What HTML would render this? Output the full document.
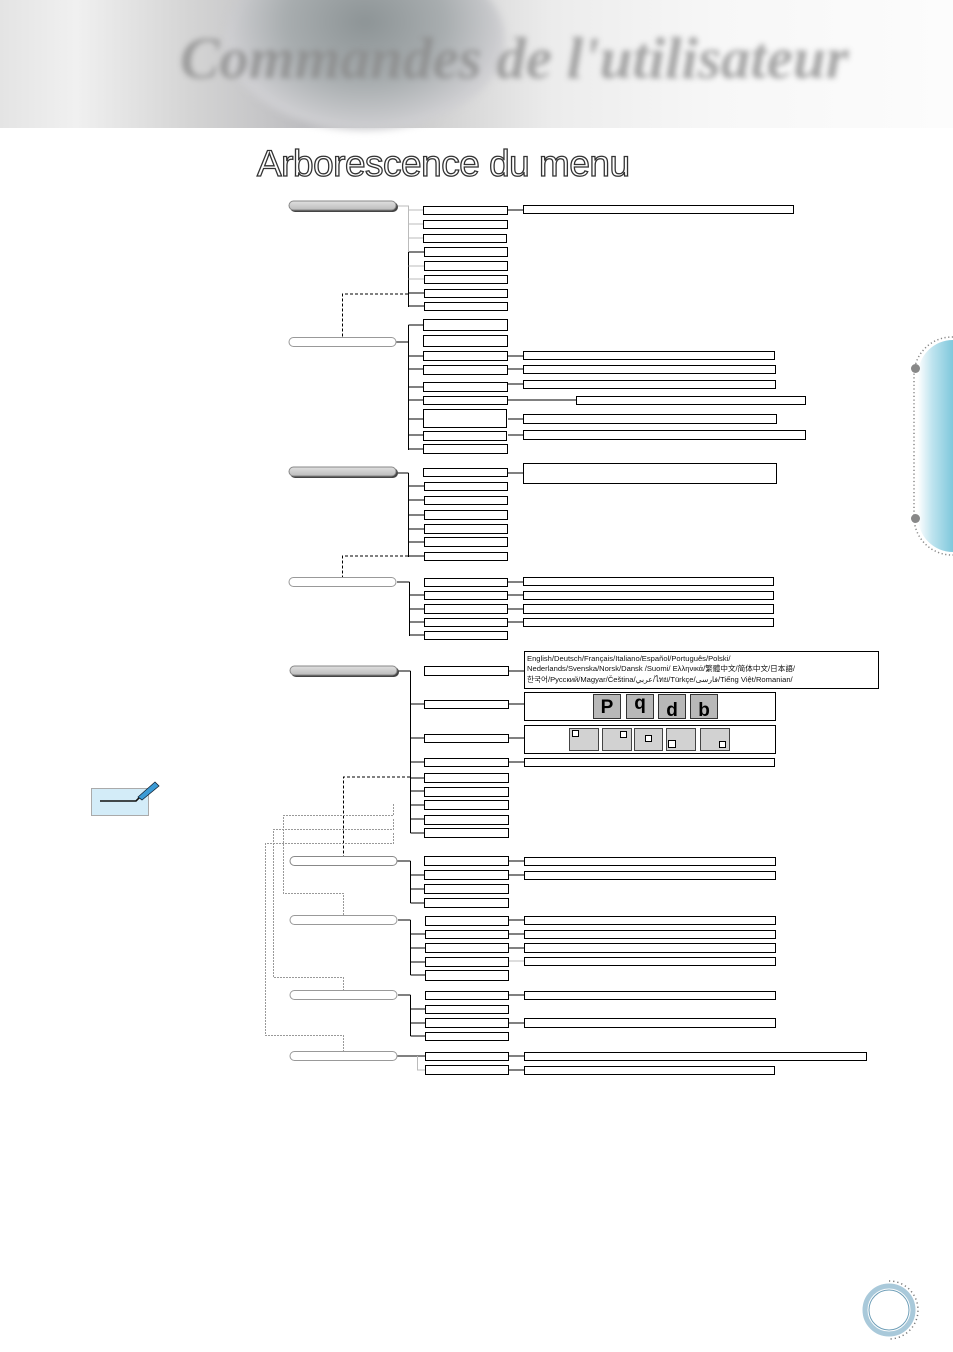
<!DOCTYPE html>
<html><head><meta charset="utf-8"><style>
html,body{margin:0;padding:0;background:#fff;}
body{width:953px;height:1352px;position:relative;overflow:hidden;font-family:"Liberation Sans","Noto Sans CJK SC",sans-serif;}
.hdr{position:absolute;left:0;top:0;width:953px;height:128px;background:linear-gradient(90deg,#e4e4e4 0%,#f0f0f0 8%,#d4d4d4 20%,#bdbdc0 32%,#d0d0d0 45%,#ececec 58%,#f7f7f7 75%,#fcfcfc 100%);}
.hdr .lens{position:absolute;left:225px;top:-50px;width:280px;height:180px;border-radius:50%;background:radial-gradient(ellipse at 50% 40%,#8d9496 0%,#a8adaf 40%,#cfcfd2 70%,rgba(230,230,230,0) 100%);filter:blur(4px);}
.hdr .ttl{position:absolute;left:180px;top:24px;font:italic bold 59px "Liberation Serif",serif;color:#8a8a8a;opacity:.75;filter:blur(3px);white-space:nowrap;}
.h1{position:absolute;left:257px;top:143px;font-size:37px;color:#fff;-webkit-text-stroke:1.3px #333;letter-spacing:-0.5px;white-space:nowrap;}
.tab{position:absolute;left:918px;top:340px;width:35px;height:212px;border-radius:35px 0 0 35px;background:linear-gradient(90deg,#ffffff 0%,#bfe4ef 40%,#7fc8dc 100%);}
.dot{position:absolute;width:9px;height:9px;border-radius:50%;background:#888;}
.lang{position:absolute;left:527px;top:654px;font-size:7.6px;line-height:10.3px;color:#111;white-space:nowrap;}
</style></head><body>
<div class="hdr"><div class="lens"></div><div class="ttl">Commandes de l'utilisateur</div></div>
<div class="h1">Arborescence du menu</div>
<div class="tab"></div>
<div class="dot" style="left:911px;top:364px"></div>
<div class="dot" style="left:911px;top:514px"></div>
<svg width="953" height="1352" style="position:absolute;left:0;top:0" xmlns="http://www.w3.org/2000/svg">
<defs><linearGradient id="tg" x1="0" y1="0" x2="0" y2="1"><stop offset="0" stop-color="#e0e0e0"/><stop offset="1" stop-color="#bcbcbc"/></linearGradient></defs>
<path d="M953 337 H952 A38 38 0 0 0 914 375 V517 A38 38 0 0 0 952 555 H953" fill="none" stroke="#888" stroke-width="1.5" stroke-dasharray="1.2 2.5"/>
<g fill="#fff" stroke="#000" stroke-width="1" shape-rendering="crispEdges">
<rect x="423.5" y="206.5" width="84" height="8"/><rect x="423.5" y="220.5" width="84" height="8"/><rect x="423.5" y="234.5" width="83" height="8"/><rect x="424.5" y="247.5" width="83" height="9"/><rect x="424.5" y="261.5" width="83" height="9"/><rect x="424.5" y="275.5" width="83" height="8"/><rect x="424.5" y="289.5" width="83" height="8"/><rect x="424.5" y="302.5" width="83" height="8"/>
<rect x="523.5" y="205.5" width="270" height="8"/>
<rect x="423.5" y="319.5" width="84" height="11"/><rect x="423.5" y="335.5" width="84" height="11"/><rect x="423.5" y="351.5" width="84" height="9"/><rect x="423.5" y="365.5" width="84" height="9"/><rect x="423.5" y="382.5" width="84" height="9"/><rect x="423.5" y="396.5" width="84" height="8"/><rect x="423.5" y="409.5" width="83" height="18"/><rect x="423.5" y="431.5" width="83" height="9"/><rect x="423.5" y="444.5" width="84" height="9"/>
<rect x="523.5" y="351.5" width="251" height="8"/><rect x="523.5" y="365.5" width="252" height="8"/><rect x="523.5" y="380.5" width="252" height="8"/><rect x="576.5" y="396.5" width="229" height="8"/><rect x="523.5" y="414.5" width="253" height="9"/><rect x="523.5" y="430.5" width="282" height="9"/>
<rect x="423.5" y="468.5" width="84" height="8"/><rect x="424.5" y="482.5" width="83" height="8"/><rect x="424.5" y="496.5" width="83" height="8"/><rect x="424.5" y="510.5" width="83" height="9"/><rect x="424.5" y="524.5" width="83" height="9"/><rect x="424.5" y="537.5" width="83" height="9"/><rect x="424.5" y="552.5" width="83" height="8"/>
<rect x="523.5" y="463.5" width="253" height="20"/>
<rect x="424.5" y="578.5" width="83" height="8"/><rect x="424.5" y="591.5" width="83" height="8"/><rect x="424.5" y="604.5" width="83" height="9"/><rect x="424.5" y="618.5" width="83" height="8"/><rect x="424.5" y="631.5" width="83" height="8"/>
<rect x="523.5" y="577.5" width="250" height="8"/><rect x="523.5" y="591.5" width="250" height="8"/><rect x="523.5" y="604.5" width="250" height="9"/><rect x="523.5" y="618.5" width="250" height="8"/>
<rect x="424.5" y="666.5" width="84" height="9"/><rect x="424.5" y="700.5" width="84" height="8"/><rect x="424.5" y="734.5" width="84" height="8"/><rect x="424.5" y="758.5" width="84" height="8"/><rect x="424.5" y="773.5" width="84" height="9"/><rect x="424.5" y="787.5" width="84" height="9"/><rect x="424.5" y="800.5" width="84" height="9"/><rect x="424.5" y="815.5" width="84" height="9"/><rect x="424.5" y="828.5" width="84" height="9"/>
<rect x="524.5" y="651.5" width="354" height="37"/><rect x="524.5" y="692.5" width="251" height="28"/><rect x="524.5" y="725.5" width="251" height="28"/><rect x="524.5" y="758.5" width="250" height="8"/>
<rect x="424.5" y="856.5" width="84" height="9"/><rect x="424.5" y="870.5" width="84" height="9"/><rect x="424.5" y="884.5" width="84" height="9"/><rect x="424.5" y="898.5" width="84" height="9"/>
<rect x="524.5" y="857.5" width="251" height="8"/><rect x="524.5" y="871.5" width="251" height="8"/>
<rect x="425.5" y="916.5" width="83" height="9"/><rect x="425.5" y="930.5" width="83" height="8"/><rect x="425.5" y="943.5" width="83" height="9"/><rect x="425.5" y="957.5" width="83" height="9"/><rect x="425.5" y="970.5" width="83" height="10"/>
<rect x="524.5" y="916.5" width="251" height="8"/><rect x="524.5" y="930.5" width="251" height="8"/><rect x="524.5" y="943.5" width="251" height="9"/><rect x="524.5" y="957.5" width="251" height="8"/>
<rect x="425.5" y="991.5" width="83" height="8"/><rect x="425.5" y="1005.5" width="83" height="8"/><rect x="425.5" y="1018.5" width="83" height="9"/><rect x="425.5" y="1032.5" width="83" height="8"/>
<rect x="524.5" y="991.5" width="251" height="8"/><rect x="524.5" y="1018.5" width="251" height="9"/>
<rect x="425.5" y="1052.5" width="83" height="8"/><rect x="425.5" y="1065.5" width="83" height="9"/>
<rect x="524.5" y="1052.5" width="342" height="8"/><rect x="524.5" y="1066.5" width="250" height="8"/>
</g>
<g fill="none" stroke="#000" stroke-width="1" shape-rendering="crispEdges">
<path d="M408.5 250 V307 M408.5 252H424 M408.5 293H424 M408.5 306H424 M508 210H523"/>
<path d="M396 342H408.5 M408.5 325V450 M408.5 325H423 M408.5 356H423 M408.5 369H423 M408.5 387H423 M408.5 400H423 M408.5 419H423 M408.5 435H423 M408.5 449H423 M508 356H523 M508 369H523 M508 384H523 M508 400H576 M508 419H523 M508 435H523"/>
<path d="M397 473H408.5 M408.5 473V557 M408.5 486H424 M408.5 500H424 M408.5 515H424 M408.5 529H424 M408.5 542H424 M408.5 556H424 M508 473H523"/>
<path d="M397 582H409.5 M409.5 582V636 M409.5 595H424 M409.5 609H424 M409.5 622H424 M409.5 635H424 M508 582H523 M508 595H523 M508 609H523 M508 622H523"/>
<path d="M398 671H410.5 M410.5 671V833 M410.5 704H424 M410.5 738H424 M410.5 762H424 M410.5 778H424 M410.5 791H424 M410.5 805H424 M410.5 819H424 M410.5 833H424 M509 671H524 M509 704H524 M509 738H524 M509 762H524"/>
<path d="M397 861H410.5 M410.5 861V903 M410.5 875H424 M410.5 889H424 M410.5 903H424 M509 861H524 M509 875H524"/>
<path d="M398 920H410.5 M410.5 920V975 M410.5 934H425 M410.5 948H425 M410.5 962H425 M410.5 975H425 M509 920H524 M509 934H524 M509 948H524"/>
<path d="M398 995H410.5 M410.5 995V1036 M410.5 1009H425 M410.5 1023H425 M410.5 1036H425 M509 995H524 M509 1023H524"/>
<path d="M397 1056H425 M509 1056H524 M509 1070H524"/>
</g>
<g fill="none" stroke="#bbb" stroke-width="1" shape-rendering="crispEdges">
<path d="M397 206H408.5 V252 M408.5 210H423 M408.5 224H423 M408.5 238H423 M408.5 266H424 M408.5 279H424"/>
<path d="M509 961H524 M417.5 1056V1070H425"/>
</g>
<g fill="none" stroke="#000" stroke-width="1" stroke-dasharray="3 2" shape-rendering="crispEdges">
<path d="M408 294H342.5V338 M408 556H342.5V578 M410 777H343.5V857"/>
</g>
<g fill="none" stroke="#999" stroke-width="1" stroke-dasharray="2 1" shape-rendering="crispEdges">
<path d="M393.5 804V815.5H283.5V893.5H343.5V915 M393.5 819V829.5H273.5V977.5H343.5V990 M393.5 833V843.5H265.5V1035.5H343.5V1051"/>
</g>
<g stroke-width="1">
<rect x="290" y="202" width="108" height="10" rx="5" fill="#444"/><rect x="289" y="201" width="107" height="9" rx="4.5" fill="url(#tg)" stroke="#888"/>
<rect x="289" y="337.5" width="107" height="9" rx="4.5" fill="#fff" stroke="#999"/>
<rect x="290" y="468" width="108" height="10" rx="5" fill="#444"/><rect x="289" y="467" width="107" height="9" rx="4.5" fill="url(#tg)" stroke="#888"/>
<rect x="289" y="577.5" width="107" height="9" rx="4.5" fill="#fff" stroke="#999"/>
<rect x="291" y="667" width="108" height="10" rx="5" fill="#444"/><rect x="290" y="666" width="107" height="9" rx="4.5" fill="url(#tg)" stroke="#888"/>
<rect x="290" y="856.5" width="107" height="9" rx="4.5" fill="#fff" stroke="#888"/>
<rect x="290" y="915.5" width="107" height="9" rx="4.5" fill="#fff" stroke="#999"/>
<rect x="290" y="990.5" width="107" height="9" rx="4.5" fill="#fff" stroke="#999"/>
<rect x="290" y="1051.5" width="107" height="9" rx="4.5" fill="#fff" stroke="#999"/>
</g>
<g stroke="#333" stroke-width="1" fill="#b8b8b8">
<rect x="593.5" y="694.5" width="27" height="24"/><rect x="626.5" y="694.5" width="27" height="24"/><rect x="658.5" y="694.5" width="27" height="24"/><rect x="690.5" y="694.5" width="27" height="24"/>
</g>
<g font-family="Liberation Sans,sans-serif" font-weight="bold" font-size="19" fill="#000" text-anchor="middle">
<text x="607" y="713">P</text><text x="640" y="709">q</text><text x="672" y="716">d</text><text x="704" y="716">b</text>
</g>
<g stroke="#444" stroke-width="1" fill="#d2d2d2">
<rect x="569.5" y="728.5" width="29" height="22"/><rect x="602.5" y="728.5" width="29" height="22"/><rect x="634.5" y="728.5" width="28" height="22"/><rect x="666.5" y="728.5" width="29" height="22"/><rect x="700.5" y="728.5" width="29" height="22"/>
</g>
<g stroke="#000" stroke-width="1" fill="#fff">
<rect x="572.5" y="730.5" width="6" height="6"/><rect x="620.5" y="731.5" width="6" height="6"/><rect x="645.5" y="735.5" width="6" height="6"/><rect x="668.5" y="740.5" width="7" height="7"/><rect x="719.5" y="741.5" width="6" height="6"/>
</g>
<rect x="91.5" y="788.5" width="57" height="27" fill="#d3ecf8" stroke="#aaa"/>
<path d="M100 801H136 L147 790" stroke="#111" stroke-width="1.6" fill="none"/>
<path d="M138 797 L155 782 L159 786 L142 800 Z" fill="#3b9bd6" stroke="#123" stroke-width="0.8"/>
<circle cx="889" cy="1310" r="24" fill="#fff" stroke="#a9c9da" stroke-width="5"/>
<circle cx="889" cy="1310" r="20" fill="#fff" stroke="#6f9fb8" stroke-width="1"/>
<path d="M889 1281 A29 29 0 0 1 889 1339" fill="none" stroke="#777" stroke-width="1.5" stroke-dasharray="1.2 3"/>
</svg>
<div class="lang">English/Deutsch/Français/Italiano/Español/Português/Polski/<br>Nederlands/Svenska/Norsk/Dansk /Suomi/ Ελληνικά/繁體中文/简体中文/日本語/<br>한국어/Русский/Magyar/Čeština/عربي/ไทย/Türkçe/فارسی/Tiếng Việt/Romanian/</div>
</body></html>
